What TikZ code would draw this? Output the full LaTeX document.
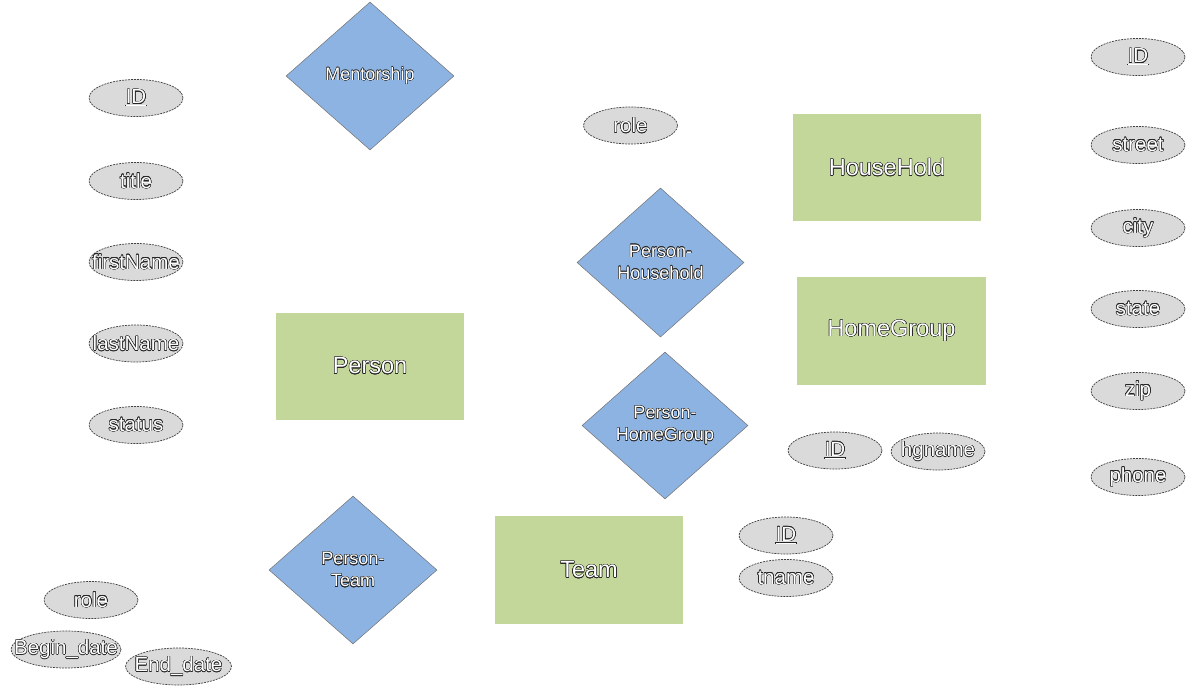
\documentclass[tikz,border=0pt]{standalone}
\usepackage{fontspec}
\setmainfont{Liberation Sans}
\usetikzlibrary{shapes.geometric}
\newif\ifhavecontour
\IfFileExists{contour.sty}{\havecontourtrue}{\havecontourfalse}
\ifhavecontour
  \usepackage[copies]{contour}
  \contournumber{16}
  \contourlength{0.45pt}
  \newcommand\olt[1]{\contour{black!85}{#1}}
\else
  \newcommand\olt[1]{#1}
\fi
\newcommand\atx[1]{\makebox[0pt]{\olt{#1}}}
\definecolor{entgreen}{HTML}{C4D79B}
\definecolor{relblue}{HTML}{8DB3E2}
\definecolor{attgray}{HTML}{DADADA}
\tikzset{
  entity/.style={rectangle, fill=entgreen, draw=none, text=white,
    minimum width=188pt, minimum height=107pt, inner sep=0pt,
    font=\fontsize{23.5}{26}\selectfont},
  rel/.style={diamond, fill=relblue, draw=black!55, line width=0.5pt, text=white,
    minimum width=168pt, minimum height=148pt, inner sep=0pt, aspect=1.13,
    align=center, font=\fontsize{18}{22}\selectfont},
  attr/.style={ellipse, fill=attgray, draw=black!75, line width=0.7pt,
    dash pattern=on 2pt off 1pt, text=white,
    minimum width=94pt, minimum height=37pt, inner sep=0pt,
    font=\fontsize{20.5}{23}\selectfont}
}
\begin{document}
\begin{tikzpicture}[x=1pt,y=-1pt]
\useasboundingbox (0,0) rectangle (1186,693);
% entities
\node[entity] (person) at (370,366) {\olt{Person}};
\node[entity] (household) at (887,167.5) {\olt{HouseHold}};
\node[entity, minimum width=189pt, minimum height=108pt] (homegroup) at (891.5,331) {\olt{HomeGroup}};
\node[entity, minimum height=108pt] (team) at (589,570) {\olt{Team}};
% relationships
\node[rel] (mentorship) at (370,76) {\olt{Mentorship}};
\node[rel, minimum width=167pt, minimum height=149pt] (ph) at (660.5,262.5) {\olt{Person-}\\\olt{Household}};
\node[rel, minimum width=166pt, minimum height=147pt] (phg) at (665,425.5) {\olt{Person-}\\\olt{HomeGroup}};
\node[rel] (pt) at (353,570) {\olt{Person-}\\\olt{Team}};
% person attributes
\node[attr] (pid) at (136,98) {\atx{\underline{ID}}};
\node[attr] (ptitle) at (136,181) {\atx{title}};
\node[attr] (pfirst) at (136,262) {\atx{firstName}};
\node[attr] (plast) at (136,343.5) {\atx{lastName}};
\node[attr] (pstatus) at (136,425) {\atx{status}};
% relationship attribute
\node[attr] (hrole) at (630.5,125.5) {\atx{role}};
% homegroup attributes
\node[attr] (hgid) at (835,450.5) {\atx{\underline{ID}}};
\node[attr] (hgname) at (938,451.5) {\atx{hgname}};
% household attributes
\node[attr] (hid) at (1138,57) {\atx{\underline{ID}}};
\node[attr] (hstreet) at (1138,145) {\atx{street}};
\node[attr] (hcity) at (1138,228) {\atx{city}};
\node[attr] (hstate) at (1138,309) {\atx{state}};
\node[attr] (hzip) at (1138,391) {\atx{zip}};
\node[attr] (hphone) at (1138,477) {\atx{phone}};
% team attributes
\node[attr] (tid) at (786,535.5) {\atx{\underline{ID}}};
\node[attr] (tname) at (786,578) {\atx{tname}};
% person-team attributes
\node[attr] (trole) at (91,600) {\atx{role}};
\node[attr, minimum width=110pt] (tbegin) at (66,649.5) {\atx{Begin\_date}};
\node[attr, minimum width=106pt] (tend) at (178.5,666.5) {\atx{End\_date}};
\end{tikzpicture}
\end{document}
